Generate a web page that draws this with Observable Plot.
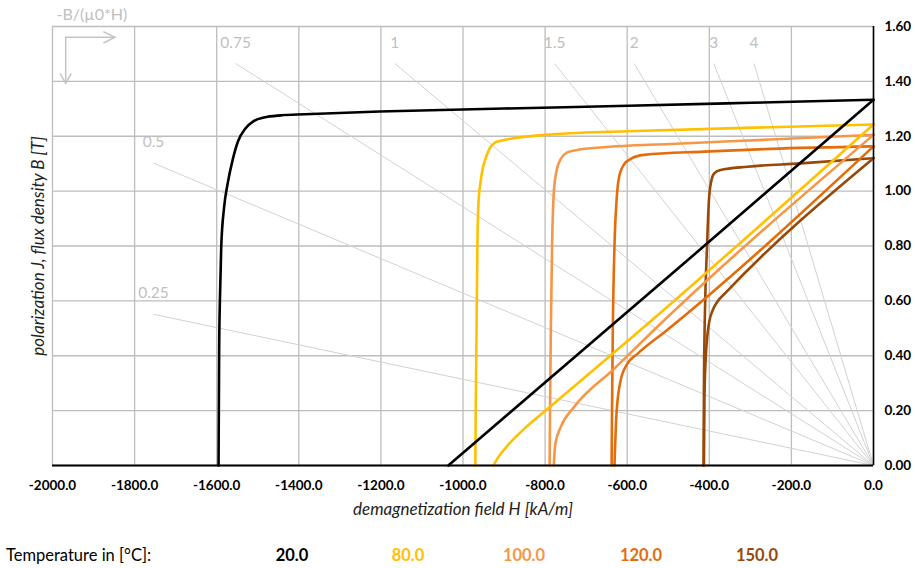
<!DOCTYPE html>
<html><head><meta charset="utf-8">
<script src="https://cdn.jsdelivr.net/npm/d3@7"></script>
<script src="https://cdn.jsdelivr.net/npm/@observablehq/plot@0.6"></script>
<style>
body{margin:0;background:#fff;font-family:Lato,"Noto Sans",sans-serif;}
#wrap{position:relative;width:915px;height:568px;overflow:hidden;}
#legend{position:relative;width:915px;height:38px;font-size:16.5px;}
#legend span{position:absolute;top:16px;white-space:nowrap;line-height:18px;}
</style></head><body><div id="wrap"></div>
<script>
// ---- data ----
const temperatures = ["20.0", "80.0", "100.0", "120.0", "150.0"];
const colors = ["#000000", "#FFC000", "#F79646", "#E46C0A", "#984807"];

// polarization J curves: [H kA/m, J T]
const j20 = [[0,1.333],[-300,1.322],[-597,1.311],[-900,1.301],[-1203,1.290],[-1385,1.280],[-1444,1.276],[-1485,1.268],[-1510,1.255],[-1530,1.228],[-1548,1.182],[-1561,1.115],[-1573,1.030],[-1582,0.941],[-1589,0.795],[-1592,0.613],[-1594,0.431],[-1595.5,0]];
const j80 = [[0,1.243],[-250,1.233],[-600,1.218],[-800,1.205],[-880,1.192],[-910,1.183],[-921,1.178],[-932,1.163],[-940,1.14],[-947,1.11],[-953,1.075],[-957,1.035],[-962,0.965],[-965,0.8],[-967,0.5],[-969,0.2],[-970,0]];
const j100 = [[0,1.205],[-251,1.188],[-494,1.172],[-657,1.160],[-722,1.150],[-746,1.141],[-762,1.117],[-772,1.075],[-779,0.99],[-783,0.8],[-786,0.5],[-788,0.2],[-789,0]];
const j120 = [[0,1.163],[-251,1.154],[-413,1.144],[-559,1.132],[-592,1.117],[-607,1.099],[-620,1.05],[-626,0.965],[-631,0.8],[-635,0.5],[-637,0.2],[-638,0]];
const j150 = [[0,1.120],[-178,1.101],[-307,1.089],[-373,1.077],[-389,1.063],[-395,1.038],[-401,0.965],[-406,0.78],[-410,0.6],[-413,0.3],[-414,0]];

// flux density B curves: [H kA/m, B T]
const b20 = [[0,1.333],[-470,0.726],[-1036,0]];
const b80 = [[0,1.243],[-569,0.492],[-795,0.205],[-850,0.135],[-890,0.075],[-912,0.035],[-926,0]];
const b100 = [[0,1.205],[-536,0.492],[-632,0.352],[-730,0.212],[-762,0.14],[-775,0.079],[-779,0]];
const b120 = [[0,1.163],[-504,0.492],[-575,0.407],[-600,0.37],[-616,0.31],[-626,0.19],[-631,0]];
const b150 = [[0,1.120],[-360,0.630],[-380,0.598],[-392,0.565],[-400,0.525],[-405,0.47],[-409,0.383],[-412,0.237],[-413,0]];

// -B/(mu0*H) reference lines
const refLabels = ["0.25", "0.5", "0.75", "1", "1.5", "2", "3", "4"];
const refEndH = [-1754, -1754, -1554, -1166, -777, -583, -389, -291];
const refEndB = [0.551, 1.102, 1.465, 1.465, 1.465, 1.465, 1.465, 1.465];

const xTicks = [-2000, -1800, -1600, -1400, -1200, -1000, -800, -600, -400, -200, 0];
const yTicks = [0, 0.2, 0.4, 0.6, 0.8, 1.0, 1.2, 1.4, 1.6];

// ---- build tables ----
const jSeries = [j20, j80, j100, j120, j150];
const bSeries = [b20, b80, b100, b120, b150];
const rows = [];
for (let i = jSeries.length - 1; i >= 0; i--) {
  for (const [H, V] of bSeries[i]) rows.push({H, V, id: "B" + i, color: colors[i]});
  for (const [H, V] of jSeries[i]) rows.push({H, V, id: "J" + i, color: colors[i]});
}
const refRows = refLabels.map((label, i) => ({label, H0: 0, B0: 0, H: refEndH[i], B: refEndB[i]}));

const gridColor = "#bdbdbd";
const plot = Plot.plot({
  width: 915,
  height: 530,
  marginLeft: 52,
  marginRight: 42,
  marginTop: 26,
  marginBottom: 65,
  style: {fontFamily: "Lato, 'Noto Sans', sans-serif", background: "#fff", overflow: "visible"},
  x: {domain: [-2000, 0]},
  y: {domain: [0, 1.6]},
  marks: [
    Plot.ruleX(xTicks, {stroke: gridColor, strokeWidth: 1.3}),
    Plot.ruleY(yTicks, {stroke: gridColor, strokeWidth: 1.3}),
    Plot.link(refRows, {x1: "H0", y1: "B0", x2: "H", y2: "B", stroke: "#d2d2d2", strokeWidth: 1}),
    Plot.text(refRows, {x: "H", y: "B", text: "label", dy: -21, fill: "#bfbfbf", fontSize: 15.5}),
    Plot.line(rows, {x: "H", y: "V", z: "id", stroke: "color", strokeWidth: 2.6, curve: "monotone-x"}),
    Plot.ruleX([0], {stroke: "#000", strokeWidth: 1.6}),
    Plot.ruleY([0], {stroke: "#000", strokeWidth: 2.2}),
    Plot.axisY({anchor: "right", ticks: yTicks, tickSize: 0, tickPadding: 11, tickFormat: d => d.toFixed(2), fontWeight: "bold", fontSize: 13.5, fill: "#000", label: null}),
    Plot.axisX({anchor: "bottom", ticks: xTicks, tickSize: 0, tickPadding: 15, tickFormat: d => d.toFixed(1), fontWeight: "bold", fontSize: 13.5, fill: "#000", label: null}),
    Plot.text(["demagnetization field H [kA/m]"], {frameAnchor: "bottom", dy: 44, lineAnchor: "middle", textAnchor: "middle", text: d => d, fontStyle: "italic", fontSize: 17, fill: "#222"}),
    Plot.text(["polarization J, flux density B [T]"], {frameAnchor: "left", dx: -14, rotate: -90, lineAnchor: "middle", textAnchor: "middle", text: d => d, fontStyle: "italic", fontSize: 17, fill: "#222"}),
    Plot.text(["-B/(µ0*H)"], {frameAnchor: "top-left", dx: 4, dy: -12, lineAnchor: "middle", textAnchor: "start", text: d => d, fontSize: 16, fill: "#bfbfbf"})
  ]
});

// decorative direction arrows in the top-left cell
{
  const xs = plot.scale("x"), ys = plot.scale("y");
  const ox = xs.apply(-2000), oy = ys.apply(1.6);
  const g = d3.select(plot).append("g").attr("fill", "none").attr("stroke", "#c4c4c4").attr("stroke-width", 1.5);
  g.append("path").attr("d", `M${ox+63},${oy+11.3}H${ox+13.7}V${oy+57.3}`);
  g.append("path").attr("d", `M${ox+51.3},${oy+5.6}L${ox+63},${oy+11.3}L${ox+51.3},${oy+17}`);
  g.append("path").attr("d", `M${ox+8},${oy+47.3}L${ox+13.7},${oy+57.3}L${ox+19.3},${oy+47.3}`);
}

const wrap = document.getElementById("wrap");
wrap.appendChild(plot);

// legend row below the chart
const legend = document.createElement("div");
legend.id = "legend";
const title = document.createElement("span");
title.textContent = "Temperature in [°C]:";
title.style.left = "6px";
legend.appendChild(title);
const legendCenters = [292, 408, 524, 641, 757];
temperatures.forEach((t, i) => {
  const s = document.createElement("span");
  s.textContent = t;
  s.style.left = legendCenters[i] + "px";
  s.style.transform = "translateX(-50%)";
  s.style.fontWeight = "bold";
  s.style.color = colors[i];
  legend.appendChild(s);
});
wrap.appendChild(legend);
</script></body></html>
